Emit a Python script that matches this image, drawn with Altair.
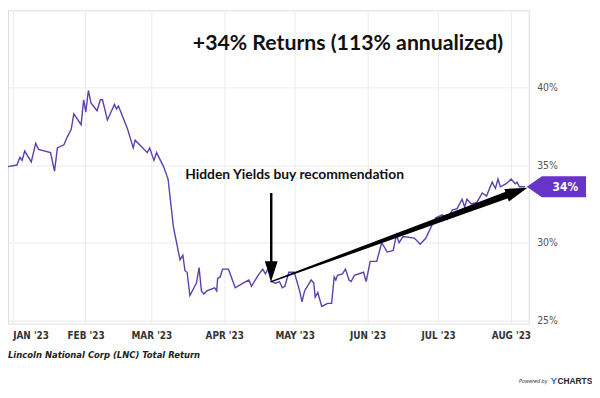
import altair as alt
import pandas as pd

# ---------------- data ----------------
start_date = "2022-12-30"
# days since start_date, and total return (%)
day_offset = [0, 3.8, 5.1, 6.0, 7.1, 9.9, 11.8, 13.0, 18.1, 19.8, 21.0, 23.8, 25.2, 26.9, 28.0,
              31.1, 32.2, 33.1, 34.2, 35.3, 37.9, 39.3, 40.2, 42.3, 45.3, 46.2, 47.0, 50.9,
              53.3, 54.1, 59.3, 60.3, 62.1, 63.2, 66.2, 68.1, 70.4, 73.2, 74.4, 75.3, 76.2,
              77.4, 80.2, 81.3, 82.3, 83.3, 84.6, 87.9, 88.8, 89.2, 90.3, 91.3, 93.8, 96.7,
              100.0, 102.5, 103.6, 106.4, 108.4, 109.5, 110.6, 112.0, 113.8, 115.5, 116.7,
              117.8, 119.5, 121.8, 124.1, 125.1, 126.2, 129.0, 130.1, 130.7, 131.8, 133.5,
              136.0, 137.7, 138.8, 139.5, 140.2, 142.3, 143.6, 145.1, 146.0, 147.4, 151.3,
              152.4, 154.1, 156.9, 159.0, 161.4, 163.9, 165.3, 166.4, 168.1, 172.9, 175.4,
              177.8, 180.6, 182.0, 184.8, 186.9, 189.0, 191.1, 193.2, 194.3, 195.3, 197.1,
              199.5, 201.8, 203.6, 206.0, 207.4, 208.5, 209.5, 212.0, 214.1, 215.8, 216.6,
              217.6, 220.0]
total_return = [34.9, 35.0, 35.5, 35.3, 35.9, 35.2, 36.4, 36.0, 35.8, 34.6, 36.1, 36.3, 36.8, 37.3, 38.3,
                37.6, 39.2, 38.4, 39.8, 39.0, 38.5, 39.2, 39.2, 37.9, 38.9, 38.6, 38.8, 37.3,
                36.1, 36.6, 35.8, 36.1, 35.3, 35.8, 34.9, 34.1, 31.0, 28.9, 29.2, 28.2, 28.1,
                26.6, 27.4, 28.4, 26.9, 26.7, 26.9, 27.1, 26.9, 27.7, 27.8, 28.3, 28.3, 27.1,
                27.4, 27.6, 27.2, 27.9, 28.3, 28.0, 28.3, 27.5, 27.4, 27.5, 27.1,
                27.2, 28.1, 28.1, 26.9, 26.2, 26.9, 27.6, 27.4, 26.5, 26.8, 25.9,
                26.1, 26.1, 27.8, 27.6, 27.9, 28.0, 28.3, 27.6, 27.5, 27.9, 28.1,
                27.5, 28.8, 28.8, 30.0, 29.4, 29.5, 30.5, 30.0, 30.4, 30.3, 29.9,
                30.3, 31.2, 31.6, 31.8, 31.5, 32.1, 32.2, 32.8, 32.3, 32.8, 32.5,
                32.6, 33.2, 33.0, 33.9, 33.5, 34.1, 33.6, 33.8, 34.1, 33.8, 33.9,
                33.6, 33.6]

y_ticks = [25, 30, 35, 40]
month_ticks = ["2023-01-01", "2023-02-01", "2023-03-01", "2023-04-01",
               "2023-05-01", "2023-06-01", "2023-07-01", "2023-08-01"]

# annotation anchors (days since start, return %)
buy_day = [112.0]
buy_value = [27.5]
arrow_end_day = [212.3]
arrow_end_value = [33.07]
arrow_head_day = [216.6]
arrow_head_value = [33.3]
vert_arrow_top = [33.2]
vert_arrow_bottom = [28.6]
vert_head_value = [28.18]
last_value = [33.6]
tag_text = ["34%"]

title_text = ["+34% Returns (113% annualized)"]
callout_text = ["Hidden Yields buy recommendation"]
source_text = ["Lincoln National Corp (LNC) Total Return"]

# ---------------- build ----------------
t0 = pd.Timestamp(start_date)
def to_date(d):
    return [(t0 + pd.Timedelta(days=float(x))).strftime("%Y-%m-%dT%H:%M:%S") for x in d]

df = pd.DataFrame({"date": to_date(day_offset), "ret": total_return})

W, H = 527, 317
LINE = "#5b3fae"
TAG = "#6634c6"
HAND = "Lato"
NARROW = "DejaVu Sans Condensed, Liberation Sans, sans-serif"

xscale = alt.Scale(domain=[alt.DateTime(year=2022, month=12, date=30),
                           alt.DateTime(year=2023, month=8, date=8, hours=14)])
yscale = alt.Scale(domain=[24.8, 44.96], nice=False, zero=False)

x_enc = alt.X("date:T", scale=xscale,
              axis=alt.Axis(values=[alt.DateTime(year=int(m[:4]), month=int(m[5:7]), date=1) for m in month_ticks],
                            format="%b '%y", labelExpr="upper(datum.label)",
                            title=None, orient="bottom", tickSize=0, domain=False,
                            labelPadding=7, labelFont=NARROW, labelFontWeight="bold",
                            labelFontSize=10, labelColor="#333", labelFlush=10,
                            grid=True, gridColor="#ececec"))
y_enc = alt.Y("ret:Q", scale=yscale,
              axis=alt.Axis(values=y_ticks, labelExpr="datum.value + '%'", title=None,
                            orient="right", tickSize=0, domain=False, labelPadding=8,
                            labelFont=NARROW, labelFontSize=10.5, labelColor="#555",
                            grid=True, gridColor="#ececec"))

line = alt.Chart(df).mark_line(color=LINE, strokeWidth=1.4).encode(x=x_enc, y=y_enc)

xs = alt.X("date:T", scale=xscale)
ys = alt.Y("ret:Q", scale=yscale)

# vertical arrow
vdf = pd.DataFrame({"date": to_date(buy_day), "ret": vert_arrow_top, "ret2": vert_arrow_bottom})
vrule = alt.Chart(vdf).mark_rule(color="black", strokeWidth=2.5).encode(
    x=xs, y=ys, y2="ret2:Q")
vhead_df = pd.DataFrame({"date": to_date(buy_day), "ret": vert_head_value})
vhead = alt.Chart(vhead_df).mark_point(
    shape="M-0.65,-1L0.65,-1L0,1Z", filled=True, color="black", opacity=1, size=400
).encode(x=xs, y=ys)

# diagonal tapered arrow
tdf = pd.DataFrame({"date": to_date(buy_day + arrow_end_day),
                    "ret": buy_value + arrow_end_value,
                    "w": [1.5, 7.0]})
trail = alt.Chart(tdf).mark_trail(color="black").encode(
    x=xs, y=ys, size=alt.Size("w:Q", scale=None, legend=None))
dhead_df = pd.DataFrame({"date": to_date(arrow_head_day), "ret": arrow_head_value})
dhead = alt.Chart(dhead_df).mark_point(
    shape="M-1,-0.6L1,0L-1,0.6Z", filled=True, color="black", opacity=1, size=500, angle=340
).encode(x=xs, y=ys)

# last-value tag
tag_df = pd.DataFrame({"ret": last_value, "t": tag_text})
tag_shape = alt.Chart(tag_df).mark_point(
    shape="M-1,0L-0.49,-0.356L1,-0.356L1,0.356L-0.49,0.356Z", filled=True,
    color=TAG, opacity=1, size=3600
).encode(x=alt.value(W - 2 + 30), y=ys)
tag_label = alt.Chart(tag_df).mark_text(
    color="white", font=NARROW, fontSize=12, fontWeight="bold", align="center", baseline="middle"
).encode(x=alt.value(W + 37), y=ys, text="t:N")

# texts
title = alt.Chart(pd.DataFrame({"t": title_text})).mark_text(
    font=HAND, fontSize=21.5, fontWeight="bold", color="#111", align="center", baseline="middle"
).encode(x=alt.value(344), y=alt.value(34), text="t:N")
callout = alt.Chart(pd.DataFrame({"t": callout_text})).mark_text(
    font=HAND, fontSize=14, fontWeight="bold", color="#111", align="center", baseline="middle"
).encode(x=alt.value(290), y=alt.value(167), text="t:N")
source = alt.Chart(pd.DataFrame({"t": source_text})).mark_text(
    font=NARROW, fontSize=9.5, fontWeight="bold", fontStyle="italic", color="#222",
    align="left", baseline="middle"
).encode(x=alt.value(0), y=alt.value(349), text="t:N")
powered = alt.Chart(pd.DataFrame({"t": ["Powered by"]})).mark_text(
    font=NARROW, fontSize=5.5, fontStyle="italic", color="#333", align="right", baseline="middle"
).encode(x=alt.value(546), y=alt.value(375), text="t:N")
ylogo = alt.Chart(pd.DataFrame({"t": ["Y"]})).mark_text(
    font="Liberation Sans", fontSize=10, fontWeight="bold", color="#1f7ad6", align="left", baseline="middle"
).encode(x=alt.value(549), y=alt.value(375), text="t:N")
clogo = alt.Chart(pd.DataFrame({"t": ["CHARTS"]})).mark_text(
    font="Liberation Sans", fontSize=8.5, fontWeight="bold", color="#222", align="left", baseline="middle"
).encode(x=alt.value(556), y=alt.value(375), text="t:N")

chart = alt.layer(
    line, vrule, vhead, trail, dhead, tag_shape, tag_label,
    title, callout, source, powered, ylogo, clogo
).properties(
    width=W, height=H,
    autosize=alt.AutoSizeParams(type="none"),
    padding={"left": 0, "top": 0, "right": 64, "bottom": 70},
).configure_view(stroke="#aaaaaa", strokeWidth=1
).configure(background="white")

chart.save("out.html", embed_options={"renderer": "svg", "actions": False})
